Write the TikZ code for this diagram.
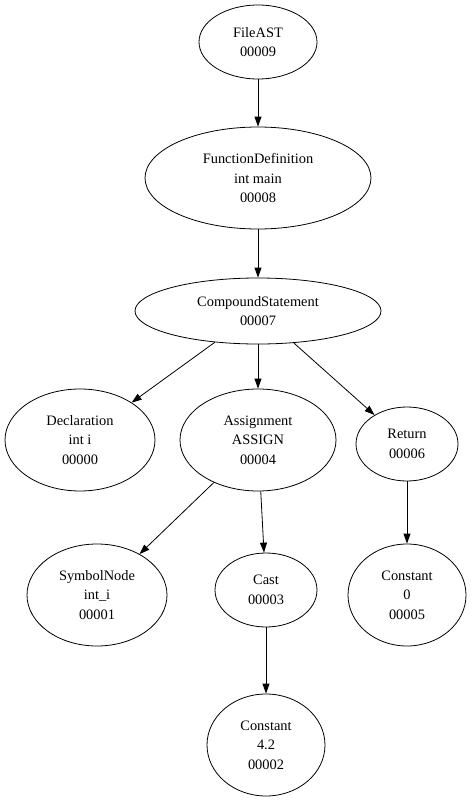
\documentclass[tikz,border=0pt]{standalone}
\usepackage{fontspec}
\setmainfont{Liberation Serif}
\usetikzlibrary{shapes.geometric,arrows.meta}
\begin{document}
\begin{tikzpicture}[x=1pt,y=-1pt,
  nd/.style={ellipse,draw,line width=0.8pt,inner sep=0pt,align=center,
    font=\fontsize{14.4}{19.5}\selectfont},
  ed/.style={draw,line width=0.8pt,-{Triangle[length=10pt,width=7pt]}}]
\useasboundingbox (0,0) rectangle (473,800);
\node[nd,minimum width=118,minimum height=74] (fa) at (258,42) {FileAST\\00009};
\node[nd,minimum width=226,minimum height=102] (fd) at (258,178) {FunctionDefinition\\int main\\00008};
\node[nd,minimum width=246,minimum height=66] (cs) at (258,311) {CompoundStatement\\00007};
\node[nd,minimum width=150,minimum height=102] (de) at (80,440) {Declaration\\int i\\00000};
\node[nd,minimum width=156,minimum height=102] (as) at (258,440) {Assignment\\ASSIGN\\00004};
\node[nd,minimum width=102,minimum height=74] (re) at (407,444) {Return\\00006};
\node[nd,minimum width=140,minimum height=102] (sy) at (97,595) {SymbolNode\\int\_i\\00001};
\node[nd,minimum width=102,minimum height=74] (ca) at (266,590) {Cast\\00003};
\node[nd,minimum width=118,minimum height=102] (c0) at (407,595) {Constant\\0\\00005};
\node[nd,minimum width=118,minimum height=102] (c4) at (266,745) {Constant\\4.2\\00002};
\draw[ed] (fa) -- (fd);
\draw[ed] (fd) -- (cs);
\draw[ed] (cs) -- (de);
\draw[ed] (cs) -- (as);
\draw[ed] (cs) -- (re);
\draw[ed] (as) -- (sy);
\draw[ed] (as) -- (ca);
\draw[ed] (ca) -- (c4);
\draw[ed] (re) -- (c0);
\end{tikzpicture}
\end{document}
